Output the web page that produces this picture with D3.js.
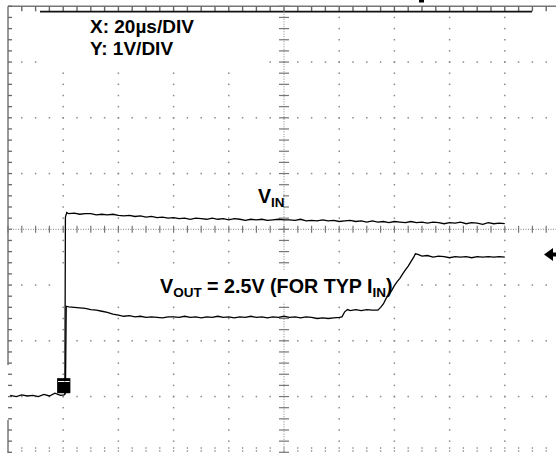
<!DOCTYPE html>
<html><head><meta charset="utf-8">
<script src="https://cdn.jsdelivr.net/npm/d3@7"></script>
<style>html,body{margin:0;padding:0;background:#fff}svg{display:block}</style>
</head><body>
<script>
// ---- data ----
const xMajor = [0,20,40,60,80,100,120,140,160,180,200];   // µs (20 µs/div)
const yMajor = [-1,0,1,2,3,4,5,6,7];                        // V (1 V/div)
const xLabelText = "X: 20µs/DIV";
const yLabelText = "Y: 1V/DIV";
const vinLabel = ["V","IN"];
const voutLabel = ["V","OUT"," = 2.5V (FOR TYP I","IN",")"];

const vinT = [0.8,3,5,7,9,11,13,15,17,19,20.3,20.6,20.8,21.3,
  22,24,26,28,30,32,34,36,38,40,42,44,46,48,50,52,54,56,58,60,
  62,64,66,68,70,72,74,76,78,80,82,84,86,88,90,92,94,96,98,100,
  102,104,106,108,110,112,114,116,118,120,122,124,126,128,130,132,134,136,138,140,
  142,144,146,148,150,152,154,156,158,160,162,164,166,168,170,172,174,176,178,180];
const vinV = [0.02,0.00,0.03,0.01,0.02,0.00,0.04,0.01,0.06,0.02,0.03,0.04,3.22,3.30,
  3.28,3.29,3.27,3.28,3.28,3.26,3.27,3.26,3.27,3.25,3.24,3.25,3.23,3.24,3.22,3.23,3.21,3.22,3.20,3.21,
  3.19,3.20,3.18,3.20,3.19,3.18,3.20,3.18,3.19,3.17,3.19,3.18,3.16,3.18,3.17,3.18,3.16,3.17,3.18,3.17,
  3.17,3.16,3.18,3.15,3.16,3.15,3.17,3.15,3.16,3.14,3.15,3.16,3.14,3.15,3.13,3.15,3.13,3.14,3.12,3.14,
  3.13,3.12,3.14,3.12,3.13,3.11,3.13,3.12,3.10,3.12,3.11,3.13,3.10,3.12,3.11,3.09,3.12,3.10,3.11,3.10];

const voutT = [20.8,21.1,22,24,26,28,30,32,34,36,38,40,42,44,46,48,50,52,54,56,58,
  60,62,64,66,68,70,72,74,76,78,80,82,84,86,88,90,92,94,96,98,100,
  102,104,106,108,110,112,114,116,118,120,121,122,123,124,126,128,130,132,134,
  135,136,137,138,139,140,141,142,143,144,145,146,147,147.6,148.5,150,152,154,156,158,
  160,162,164,166,168,170,172,174,176,178,180];
const voutV = [0.05,1.62,1.61,1.60,1.59,1.58,1.56,1.55,1.53,1.51,1.48,1.46,1.44,1.45,1.43,1.44,1.42,1.43,1.42,1.41,1.43,
  1.43,1.42,1.44,1.42,1.43,1.41,1.43,1.42,1.44,1.42,1.43,1.41,1.43,1.42,1.44,1.42,1.43,1.41,1.43,1.42,1.44,
  1.42,1.43,1.41,1.43,1.42,1.40,1.41,1.40,1.41,1.42,1.43,1.52,1.56,1.54,1.56,1.54,1.56,1.55,1.55,
  1.60,1.66,1.76,1.83,1.90,1.99,2.06,2.12,2.20,2.27,2.34,2.42,2.50,2.56,2.55,2.52,2.53,2.50,2.52,2.51,
  2.49,2.51,2.50,2.51,2.49,2.51,2.50,2.51,2.50,2.51,2.50];
const voutMarkerLevel = 2.55;   // right-edge level marker (V)

// ---- drawing ----
const W = 556, H = 453;
const svg = d3.select("body").append("svg").attr("width", W).attr("height", H);
const x = d3.scaleLinear().domain([0, 200]).range([8, 560]);
const y = d3.scaleLinear().domain([-1, 7]).range([452.3, 6.3]);
const xMinor = x.ticks(50);   // 4 µs
const yMinor = y.ticks(40);   // 0.2 V
const grey = "#8a8a8a";
const xc = 100, yc = 3;        // centre axes

const g = svg.append("g");
// dotted major rows
yMajor.filter(v => v !== yc && v !== 7 && v !== -1).forEach(v => {
  g.selectAll(null).data(xMinor.filter(t => t > 0)).enter().append("rect")
    .attr("x", t => x(t) - 0.75).attr("y", y(v) - 0.75).attr("width", 1.5).attr("height", 1.5).attr("fill", grey);
});
// dotted major columns
xMajor.filter(t => t !== xc && t !== 0).forEach(t => {
  g.selectAll(null).data(yMinor.filter(v => v > -1 && v < 7)).enter().append("rect")
    .attr("x", x(t) - 0.75).attr("y", v => y(v) - 0.75).attr("width", 1.5).attr("height", 1.5).attr("fill", grey);
});
// bottom ticks
g.selectAll(null).data(xMinor.filter(t => t > 0)).enter().append("line")
  .attr("x1", t => x(t)).attr("x2", t => x(t)).attr("y1", y(-1) - 5).attr("y2", y(-1))
  .attr("stroke", grey).attr("stroke-width", 1.3).attr("stroke-dasharray", "1.5,1.5");
// top border + ticks
g.append("line").attr("x1", x(0)).attr("x2", W).attr("y1", y(7)).attr("y2", y(7))
  .attr("stroke", "#777").attr("stroke-width", 1.5);
g.selectAll(null).data(xMinor.filter(t => t > 0)).enter().append("line")
  .attr("x1", t => x(t)).attr("x2", t => x(t)).attr("y1", y(7)).attr("y2", y(7) + 5)
  .attr("stroke", "#666").attr("stroke-width", 1.4);
g.append("line").attr("x1", 40).attr("x2", 532).attr("y1", y(7) + 5.3).attr("y2", y(7) + 5.3)
  .attr("stroke", "#111").attr("stroke-width", 1.6);
// left border + ticks
g.append("line").attr("x1", x(0)).attr("x2", x(0)).attr("y1", y(7)).attr("y2", 365)
  .attr("stroke", "#777").attr("stroke-width", 1.5);
g.append("line").attr("x1", x(0)).attr("x2", x(0)).attr("y1", 420).attr("y2", H)
  .attr("stroke", "#777").attr("stroke-width", 1.5);
g.selectAll(null).data(yMinor).enter().append("line")
  .attr("x1", x(0)).attr("x2", x(0) + 4).attr("y1", v => y(v)).attr("y2", v => y(v))
  .attr("stroke", "#666").attr("stroke-width", 1.3);
// centre axes
g.append("line").attr("x1", x(0)).attr("x2", W).attr("y1", y(yc)).attr("y2", y(yc))
  .attr("stroke", "#999").attr("stroke-width", 1.2).attr("stroke-dasharray", "1,1.5");
g.append("line").attr("x1", x(xc)).attr("x2", x(xc)).attr("y1", y(7)).attr("y2", H)
  .attr("stroke", "#999").attr("stroke-width", 1.2).attr("stroke-dasharray", "1,1.5");
g.selectAll(null).data(xMinor).enter().append("line")
  .attr("x1", t => x(t)).attr("x2", t => x(t)).attr("y1", y(yc) - 3.5).attr("y2", y(yc) + 3.5)
  .attr("stroke", "#777").attr("stroke-width", 1.2);
g.selectAll(null).data(yMinor).enter().append("line")
  .attr("x1", x(xc) - 5).attr("x2", x(xc) + 5).attr("y1", v => y(v)).attr("y2", v => y(v))
  .attr("stroke", "#777").attr("stroke-width", 1.2);

// white label backgrounds
svg.append("rect").attr("x", 44).attr("y", 13).attr("width", 214).attr("height", 53).attr("fill", "#fff");
svg.append("rect").attr("x", 58).attr("y", 270).attr("width", 337).attr("height", 32).attr("fill", "#fff");
svg.append("rect").attr("x", 255).attr("y", 186).attr("width", 28).attr("height", 22).attr("fill", "#fff");

// traces
const line = d3.line().x(d => x(d[0])).y(d => y(d[1]));
svg.append("path").datum(d3.zip(vinT, vinV)).attr("d", line)
  .attr("fill", "none").attr("stroke", "#000").attr("stroke-width", 1.3);
svg.append("path").datum(d3.zip(voutT, voutV)).attr("d", line)
  .attr("fill", "none").attr("stroke", "#000").attr("stroke-width", 1.3);

// channel marker (bottom left) and level marker (right)
svg.append("rect").attr("x", x(17.8)).attr("y", y(0.33)).attr("width", x(22.6) - x(17.8)).attr("height", y(0.06) - y(0.33)).attr("fill", "#000");
svg.append("line").attr("x1", x(18.1)).attr("x2", x(22.3)).attr("y1", y(0.27)).attr("y2", y(0.27)).attr("stroke", "#fff").attr("stroke-width", 1);
svg.append("line").attr("x1", x(20.6)).attr("x2", x(20.6)).attr("y1", y(0.33)).attr("y2", y(0.27)).attr("stroke", "#000").attr("stroke-width", 1);
const my = y(voutMarkerLevel);
svg.append("path")
  .attr("d", `M544,${my} L553,${my-6.5} L553,${my-2} L556,${my-2} L556,${my+2} L553,${my+2} L553,${my+6.5} Z`)
  .attr("fill", "#000");
// clipped title fragment at top
svg.append("rect").attr("x", 419).attr("y", 0).attr("width", 5).attr("height", 2.5).attr("fill", "#000");

// text
const font = "'Liberation Sans', Arial, Helvetica, sans-serif";
svg.append("text").attr("x", 90).attr("y", 33).attr("font-family", font).attr("font-weight", "bold").attr("font-size", 19).text(xLabelText);
svg.append("text").attr("x", 90).attr("y", 55).attr("font-family", font).attr("font-weight", "bold").attr("font-size", 19).text(yLabelText);

const tv = svg.append("text").attr("x", 258).attr("y", 203).attr("font-family", font).attr("font-weight", "bold").attr("font-size", 19.5);
tv.append("tspan").text(vinLabel[0]);
tv.append("tspan").attr("font-size", 13.5).attr("dy", 3.5).text(vinLabel[1]);

const to = svg.append("text").attr("x", 160).attr("y", 293).attr("font-family", font).attr("font-weight", "bold").attr("font-size", 19.7);
to.append("tspan").text(voutLabel[0]);
to.append("tspan").attr("font-size", 13.5).attr("dy", 4).text(voutLabel[1]);
to.append("tspan").attr("dy", -4).text(voutLabel[2]);
to.append("tspan").attr("font-size", 13.5).attr("dy", 4).text(voutLabel[3]);
to.append("tspan").attr("dy", -4).text(voutLabel[4]);
</script>
</body></html>
